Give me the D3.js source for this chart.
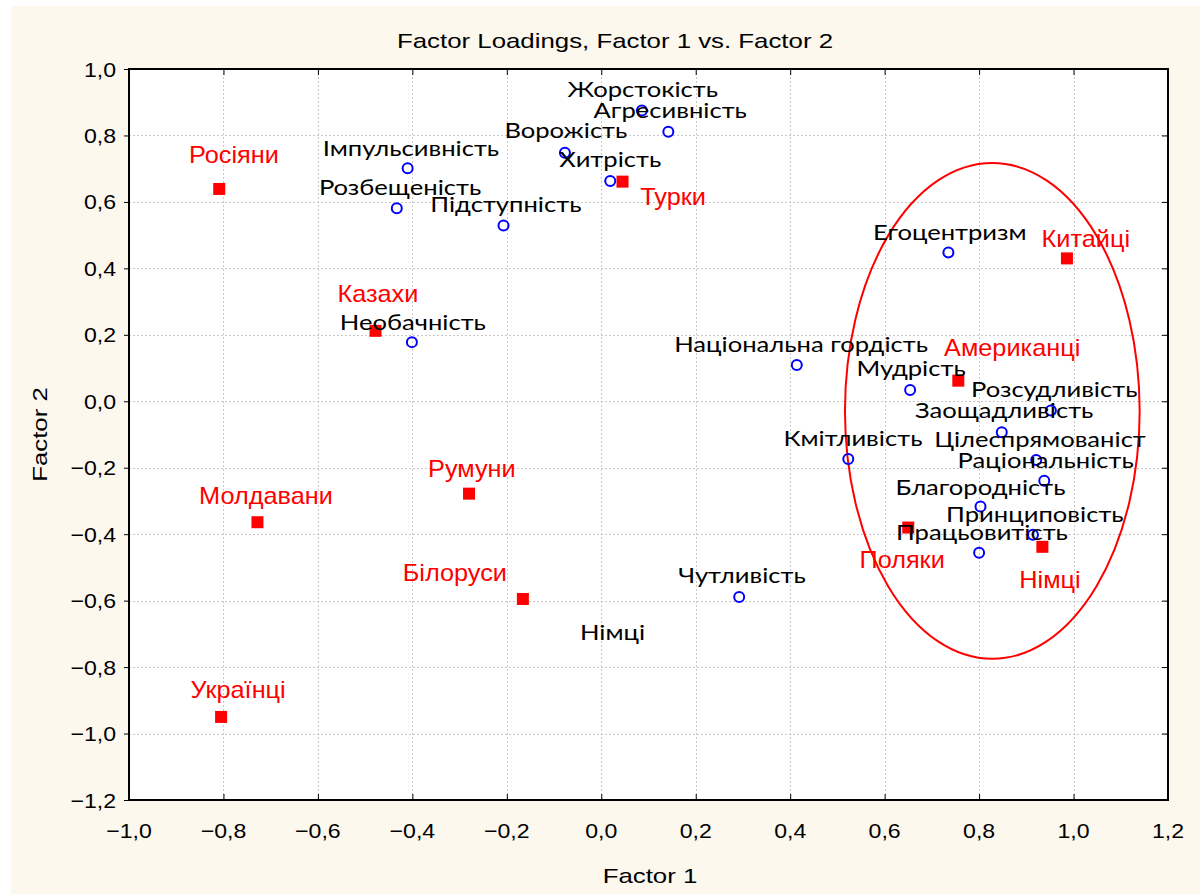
<!DOCTYPE html>
<html>
<head>
<meta charset="utf-8">
<script src="https://cdn.jsdelivr.net/npm/d3@7"></script>
<style>
  html, body { margin: 0; padding: 0; background: #ffffff; }
  svg { display: block; }
</style>
</head>
<body>
<div id="chart"></div>
<script>
// ---------- DATA ----------
const xTicks = [-1.0, -0.8, -0.6, -0.4, -0.2, 0.0, 0.2, 0.4, 0.6, 0.8, 1.0, 1.2];
const yTicks = [1.0, 0.8, 0.6, 0.4, 0.2, 0.0, -0.2, -0.4, -0.6, -0.8, -1.0, -1.2];

// Variables (blue circles)
const varNames = ["Жорстокість", "Агресивність", "Ворожість", "Хитрість", "Імпульсивність",
  "Розбещеність", "Підступність", "Необачність", "Чутливість", "Національна гордість",
  "Кмітливість", "Егоцентризм", "Мудрість", "Розсудливість", "Заощадливість",
  "Цілеспрямованіст", "Раціональність", "Благородність", "Принциповість", "Працьовитість"];
const varF1 = [0.086, 0.142, -0.077, 0.019, -0.410, -0.433, -0.207, -0.401, 0.292, 0.414,
  0.523, 0.735, 0.654, 0.952, 0.848, 0.921, 0.938, 0.803, 0.914, 0.800];
const varF2 = [0.875, 0.811, 0.748, 0.663, 0.701, 0.581, 0.529, 0.178, -0.589, 0.109,
  -0.174, 0.448, 0.034, -0.028, -0.093, -0.177, -0.239, -0.317, -0.402, -0.456];
// label anchor (centre, baseline) in factor units
const varLabelF1 = [0.088, 0.146, -0.075, 0.019, -0.403, -0.426, -0.202, -0.399, 0.298, 0.423,
  0.533, 0.738, 0.656, 0.959, 0.853, 0.929, 0.941, 0.803, 0.918, 0.806];
const varLabelF2 = [0.916, 0.853, 0.792, 0.706, 0.738, 0.621, 0.571, 0.215, -0.547, 0.148,
  -0.134, 0.486, 0.077, 0.014, -0.051, -0.137, -0.202, -0.282, -0.362, -0.417];

// Nations (red squares)
const grpNames = ["Росіяни", "Турки", "Казахи", "Румуни", "Молдавани", "Білоруси",
  "Українці", "Китайці", "Американці", "Поляки", "Німці"];
const grpF1 = [-0.809, 0.045, -0.478, -0.280, -0.728, -0.166, -0.805, 0.986, 0.756, 0.650, 0.934];
const grpF2 = [0.639, 0.661, 0.212, -0.278, -0.364, -0.595, -0.950, 0.430, 0.062, -0.380, -0.438];
const grpLabelF1 = [-0.778, 0.152, -0.473, -0.274, -0.710, -0.310, -0.769, 1.026, 0.870, 0.637, 0.950];
const grpLabelF2 = [0.717, 0.591, 0.300, -0.227, -0.310, -0.540, -0.893, 0.465, 0.137, -0.503, -0.563];

// Stray text label without marker
const strayText = ["Німці"];
const strayF1 = [0.024];
const strayF2 = [-0.718];

// Ellipse (centre and semi-axes in factor units)
const ellipseCenter = [0.828, -0.029];
const ellipseRadii = [0.312, 0.746];

const titleText = "Factor Loadings, Factor 1 vs. Factor 2";
const xTitle = "Factor 1";
const yTitle = "Factor 2";

// ---------- LAYOUT ----------
const W = 1200, H = 894;
const L = 129, R = 1168, T = 69, B = 800;
const fmt = v => d3.format(".1f")(v).replace(".", ",");
const arial = "'Liberation Sans', Arial, sans-serif";
const calib = "Lato, 'Open Sans', sans-serif";

const svg = d3.select("#chart").append("svg").attr("width", W).attr("height", H);
svg.append("rect").attr("width", W).attr("height", H).attr("fill", "#ffffff");
svg.append("rect").attr("x", 11).attr("y", 6).attr("width", W - 11).attr("height", H - 6)
  .attr("fill", "#fcf8ee");

const x = d3.scaleLinear().domain([-1.0, 1.2]).range([L, R]);
const y = d3.scaleLinear().domain([-1.2, 1.0]).range([B, T]);

svg.append("rect").attr("x", L).attr("y", T).attr("width", R - L).attr("height", B - T)
  .attr("fill", "#ffffff");

// stretched text helper
function sText(g, px, py, txt, opts) {
  return g.append("text")
    .attr("transform", `translate(${px},${py}) scale(${opts.sx || 1},1)${opts.rot ? " rotate(" + opts.rot + ")" : ""}`)
    .attr("text-anchor", opts.anchor || "middle")
    .attr("font-family", opts.font).attr("font-size", opts.size)
    .attr("fill", opts.fill || "#000").text(txt);
}

// grid
const grid = svg.append("g").attr("stroke", "#c8c8c8").attr("stroke-width", 1)
  .attr("stroke-dasharray", "2,2");
grid.selectAll("line.gx").data(xTicks.slice(1, -1)).join("line")
  .attr("x1", d => Math.round(x(d)) + 0.5).attr("x2", d => Math.round(x(d)) + 0.5)
  .attr("y1", T).attr("y2", B);
grid.selectAll("line.gy").data(yTicks.slice(1, -1)).join("line")
  .attr("y1", d => Math.round(y(d)) + 0.5).attr("y2", d => Math.round(y(d)) + 0.5)
  .attr("x1", L).attr("x2", R);

// axes (tick marks via d3 axes, labels stretched separately)
const axB = svg.append("g").attr("transform", `translate(0,${B})`)
  .call(d3.axisBottom(x).tickValues(xTicks).tickFormat("").tickSizeInner(-6).tickSizeOuter(0));
const axT = svg.append("g").attr("transform", `translate(0,${T})`)
  .call(d3.axisTop(x).tickValues(xTicks).tickFormat("").tickSizeInner(-6).tickSizeOuter(0));
const axL = svg.append("g").attr("transform", `translate(${L},0)`)
  .call(d3.axisLeft(y).tickValues(yTicks).tickFormat("").tickSizeInner(5).tickSizeOuter(0));
const axR = svg.append("g").attr("transform", `translate(${R},0)`)
  .call(d3.axisRight(y).tickValues(yTicks).tickFormat("").tickSizeInner(-6).tickSizeOuter(0));
[axB, axT, axL, axR].forEach(g => {
  g.select(".domain").remove();
  g.selectAll("line").attr("stroke", "#000").attr("stroke-width", 1);
  g.selectAll("text").remove();
});

const tickG = svg.append("g");
xTicks.forEach(v => sText(tickG, x(v), 838, fmt(v), { font: arial, size: 21, sx: 1.1 }));
yTicks.forEach(v => sText(tickG, 116, y(v) + 7.5, fmt(v), { font: arial, size: 21, sx: 1.1, anchor: "end" }));

// frame
svg.append("rect").attr("x", L).attr("y", T).attr("width", R - L).attr("height", B - T)
  .attr("fill", "none").attr("stroke", "#000").attr("stroke-width", 2);

// titles
sText(svg, 615, 48, titleText, { font: arial, size: 21, sx: 1.23 });
sText(svg, 650, 883, xTitle, { font: arial, size: 21, sx: 1.23 });
svg.append("text").attr("transform", `translate(47,${(T + B) / 2}) rotate(-90) scale(1.23,1)`)
  .attr("text-anchor", "middle").attr("font-family", arial).attr("font-size", 21)
  .attr("fill", "#000").text(yTitle);

// ellipse
svg.append("ellipse")
  .attr("cx", x(ellipseCenter[0])).attr("cy", y(ellipseCenter[1]))
  .attr("rx", x(ellipseCenter[0] + ellipseRadii[0]) - x(ellipseCenter[0]))
  .attr("ry", y(ellipseCenter[1] - ellipseRadii[1]) - y(ellipseCenter[1]))
  .attr("fill", "none").attr("stroke", "#ff0000").attr("stroke-width", 2);

const vars = varNames.map((n, i) => ({ n, a: varF1[i], b: varF2[i], la: varLabelF1[i], lb: varLabelF2[i] }));
const grps = grpNames.map((n, i) => ({ n, a: grpF1[i], b: grpF2[i], la: grpLabelF1[i], lb: grpLabelF2[i] }));

svg.append("g").selectAll("rect").data(grps).join("rect")
  .attr("x", d => x(d.a) - 6).attr("y", d => y(d.b) - 6)
  .attr("width", 12).attr("height", 12).attr("fill", "#ff0000");

svg.append("g").selectAll("circle").data(vars).join("circle")
  .attr("cx", d => x(d.a)).attr("cy", d => y(d.b)).attr("r", 5)
  .attr("fill", "none").attr("stroke", "#0000ff").attr("stroke-width", 2);

const blackG = svg.append("g");
vars.forEach(d => sText(blackG, x(d.la), y(d.lb), d.n, { font: calib, size: 21, sx: 1.22 }));
strayText.forEach((t, i) => sText(blackG, x(strayF1[i]), y(strayF2[i]), t, { font: calib, size: 21, sx: 1.22 }));

const redG = svg.append("g");
grps.forEach(d => sText(redG, x(d.la), y(d.lb), d.n, { font: arial, size: 23, sx: 1.1, fill: "#ff0000" }));
</script>
</body>
</html>
